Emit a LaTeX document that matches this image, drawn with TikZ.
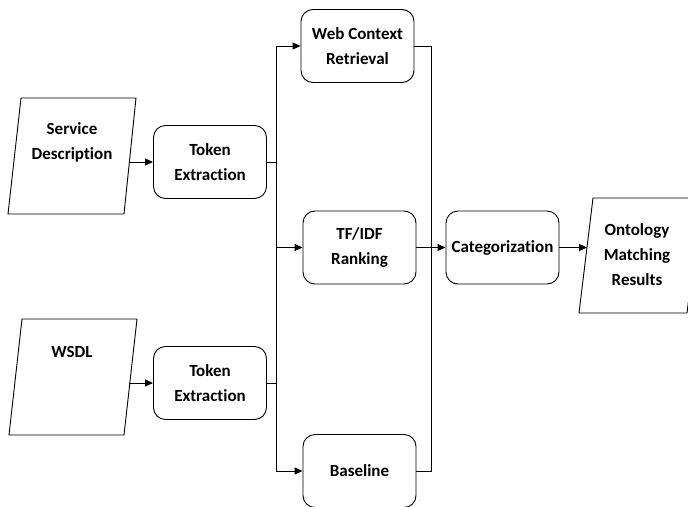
\documentclass[tikz,border=0pt]{standalone}
\usepackage{fontspec}
\setmainfont{Carlito}[Ligatures=NoCommon]
\usetikzlibrary{arrows.meta}
\begin{document}
\begin{tikzpicture}[x=1pt,y=-1pt,
  line width=0.9pt,
  lbl/.style={font=\bfseries\fontsize{17}{25}\selectfont, align=center, inner sep=0pt},
  proc/.style={draw, rounded corners=12pt, minimum width=113pt, minimum height=73pt,
               font=\bfseries\fontsize{17}{25}\selectfont, align=center, inner sep=0pt},
  arr/.style={-{Triangle[length=8pt,width=7pt]}}]
  \useasboundingbox (0,0) rectangle (688,506);
  \begin{scope}
  \clip (0,0) rectangle (688,506);

  % input documents (slanted data shapes)
  \draw (21,98) -- (136,98) -- (124,214) -- (8,214) -- cycle;
  \node[lbl] (sd) at (72,142) {Service\\Description};
  \coordinate (sdout) at (129.5,162);

  \draw (22,319) -- (137,319) -- (124,435) -- (9,435) -- cycle;
  \node[lbl] (wsdl) at (72,352) {WSDL};
  \coordinate (wsdlout) at (128.5,383);

  % output document
  \draw (593,198) -- (701,198) -- (687,313) -- (579,313) -- cycle;
  \node[lbl] (ont) at (637,255) {Ontology\\Matching\\Results};
  \coordinate (ontin) at (587,247.5);

  % processing steps
  \node[proc] (tok1) at (210,162) {Token\\Extraction};
  \node[proc] (tok2) at (210,383) {Token\\Extraction};
  \node[proc] (web)  at (357.5,46) {Web Context\\Retrieval};
  \node[proc] (tfidf) at (359.5,247.5) {TF/IDF\\Ranking};
  \node[proc] (base) at (359.5,471) {Baseline};
  \node[proc] (cat) at (502.5,247.5) {Categorization};

  % bus positions
  \coordinate (lb) at (276,0);
  \coordinate (rb) at (431,0);

  % inputs to token extraction
  \draw[arr] (sdout) -- (tok1.west);
  \draw[arr] (wsdlout) -- (tok2.west);

  % token extraction into the left bus
  \draw (tok1.east) -- (tok1.east -| lb);
  \draw (tok2.east) -- (tok2.east -| lb);
  \draw[arr] (tfidf.west -| lb) |- (web.west);
  \draw[arr] (tfidf.west -| lb) |- (base.west);
  \draw[arr] (tfidf.west -| lb) -- (tfidf.west);

  % right bus into categorization
  \draw (web.east) -| (tfidf.east -| rb);
  \draw (base.east) -| (tfidf.east -| rb);
  \draw[arr] (tfidf.east) -- (cat.west);

  % categorization to results
  \draw[arr] (cat.east) -- (ontin);
  \end{scope}
\end{tikzpicture}
\end{document}
